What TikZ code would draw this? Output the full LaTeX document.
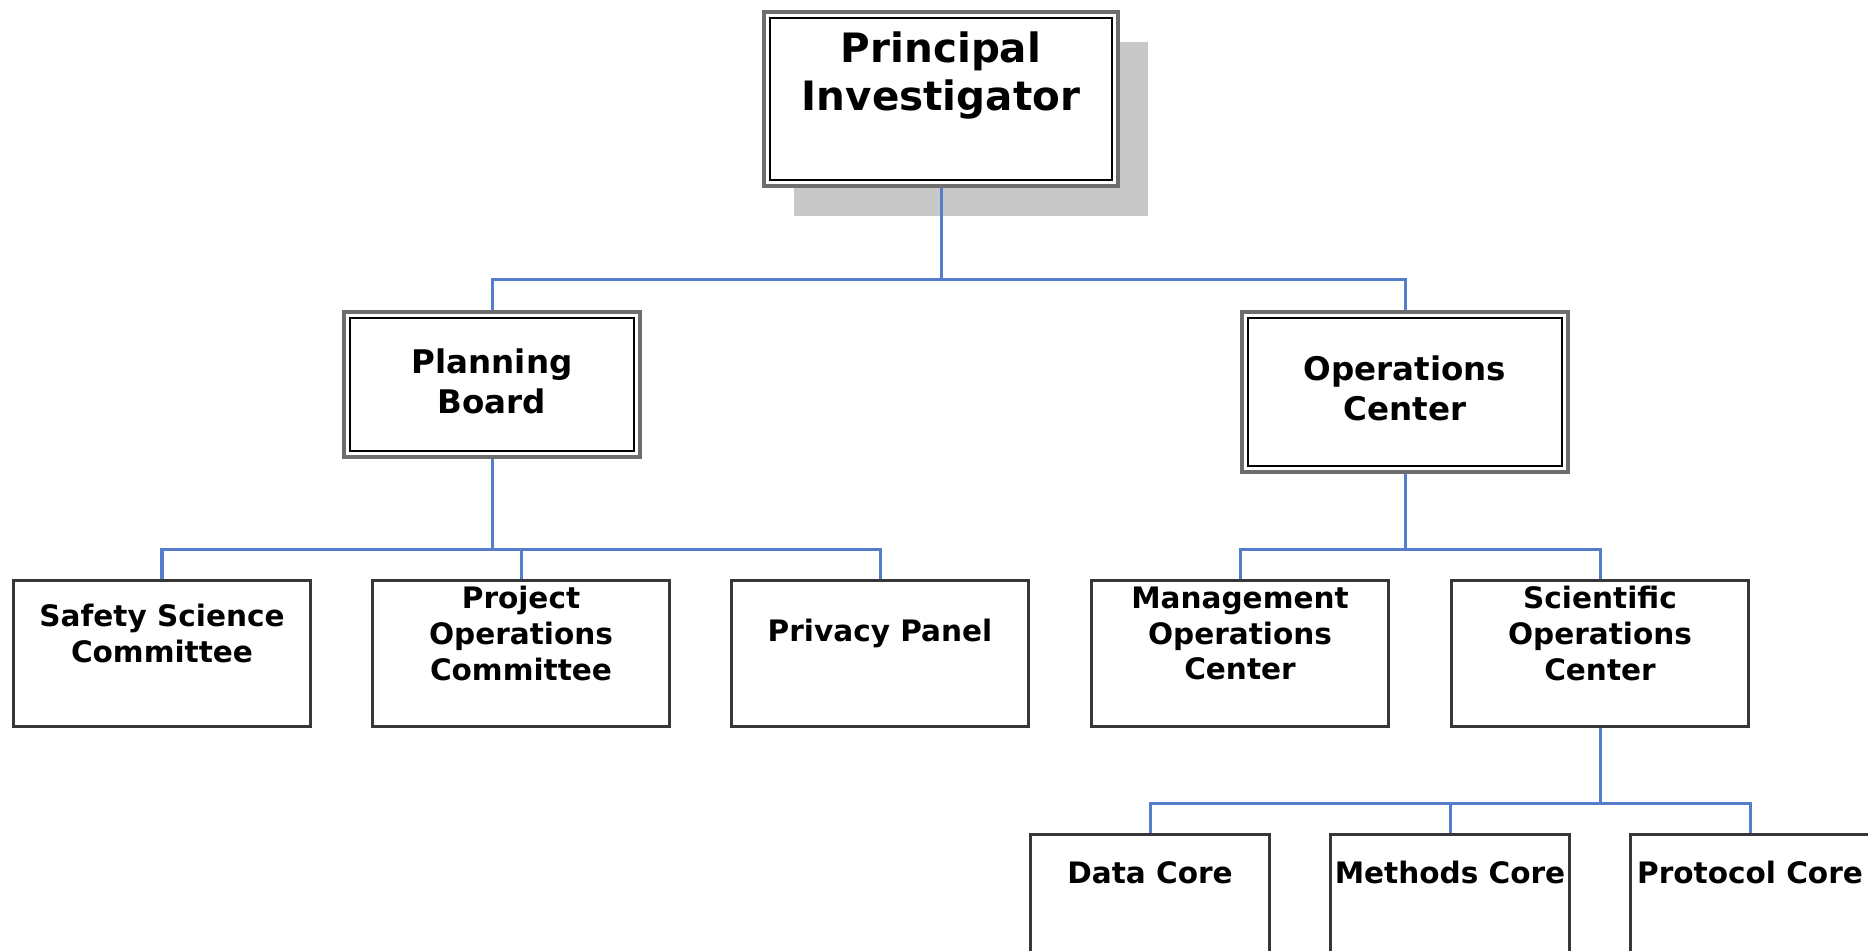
\documentclass[tikz,border=0pt]{standalone}
\usepackage{fontspec}
\setmainfont{DejaVu Sans}
\usetikzlibrary{shadows}

\definecolor{linkblue}{RGB}{84,126,204}
\definecolor{boxgray}{RGB}{55,55,55}
\definecolor{rimgray}{RGB}{110,110,110}
\definecolor{shadowgray}{RGB}{200,200,200}

\tikzset{
  box/.style={draw=boxgray, line width=0.03cm, fill=white, inner sep=0pt,
    minimum width=2.96cm, minimum height=1.46cm},
  core/.style={box, minimum width=2.38cm},
  % grey rim with a thin black line just inside it
  frame/.style={draw=rimgray, line width=0.045cm, fill=white, inner sep=0pt,
    path picture={\draw[black, line width=0.02cm]
      ([shift={(0.06cm,-0.06cm)}]path picture bounding box.north west) rectangle
      ([shift={(-0.06cm,0.06cm)}]path picture bounding box.south east);}},
  toptext/.style={font=\bfseries\fontsize{11.5}{13.4}\selectfont, align=center},
  midtext/.style={font=\bfseries\fontsize{9.25}{11.4}\selectfont, align=center},
  lowtext/.style={font=\bfseries\fontsize{8.4}{10.2}\selectfont, align=center},
  link/.style={draw=linkblue, line width=0.03cm}
}

\begin{document}
\begin{tikzpicture}[x=0.01cm, y=-0.01cm]
  \useasboundingbox (0,0) rectangle (1868,951);

  % top of the chart
  \node[frame, minimum width=3.54cm, minimum height=1.74cm,
    drop shadow={shadow xshift=0.3cm, shadow yshift=-0.3cm, fill=shadowgray, opacity=1},
    label={[toptext, name=pi-t, yshift=0.235cm]center:Principal\\Investigator}] (pi) at (941,99) {};

  % second level
  \node[frame, minimum width=2.96cm, minimum height=1.45cm,
    label={[midtext, name=pb-t, yshift=0.035cm]center:Planning\\Board}] (pb) at (492,384.5) {};
  \node[frame, minimum width=3.26cm, minimum height=1.60cm,
    label={[midtext, name=oc-t, yshift=0.04cm]center:Operations\\Center}] (oc) at (1405,392) {};

  % committees and centers
  \node[box, label={[lowtext, name=ssc-t, yshift=0.2cm]center:Safety Science\\Committee}] (ssc) at (162,653.5) {};
  \node[box, label={[lowtext, name=poc-t, yshift=0.2cm]center:Project\\Operations\\Committee}] (poc) at (521,653.5) {};
  \node[box, label={[lowtext, name=pp-t, yshift=0.2cm]center:Privacy Panel}] (pp) at (880,653.5) {};
  \node[box, label={[lowtext, name=moc-t, yshift=0.2cm]center:Management\\Operations\\Center}] (moc) at (1240,653.5) {};
  \node[box, label={[lowtext, name=soc-t, yshift=0.2cm]center:Scientific\\Operations\\Center}] (soc) at (1600,653.5) {};

  % cores
  \node[core, label={[lowtext, name=dc-t, yshift=0.35cm]center:Data Core}] (dc) at (1150,907.5) {};
  \node[core, label={[lowtext, name=mc-t, yshift=0.35cm]center:Methods Core}] (mc) at (1450,907.5) {};
  \node[core, label={[lowtext, name=pc-t, yshift=0.35cm]center:Protocol Core}] (pc) at (1750,907.5) {};

  % connectors
  \coordinate (pibus) at (941,279);
  \coordinate (pbbus) at (492,549);
  \coordinate (ocbus) at (1405,549);
  \coordinate (socbus) at (1600,803);

  \draw[link] (pi) -- (pibus);
  \draw[link] (pb) |- (pibus) -| (oc);

  \draw[link] (pb) -- (pbbus);
  \draw[link] (ssc) |- (pbbus) -| (pp);
  \draw[link] (poc) -- (poc |- pbbus);

  \draw[link] (oc) -- (ocbus);
  \draw[link] (moc) |- (ocbus) -| (soc);

  \draw[link] (soc) -- (socbus);
  \draw[link] (dc) |- (socbus) -| (pc);
  \draw[link] (mc) -- (mc |- socbus);
\end{tikzpicture}
\end{document}
